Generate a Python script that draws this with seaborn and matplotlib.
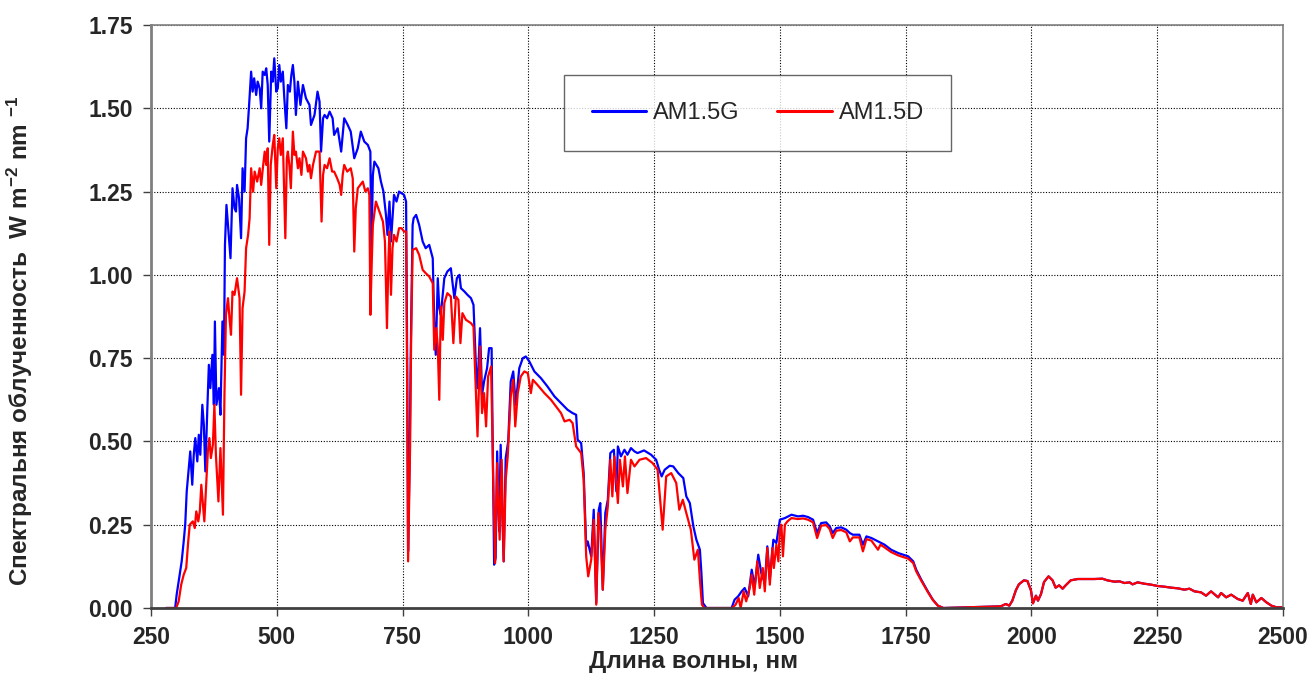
import numpy as np
import pandas as pd
import matplotlib
matplotlib.use("Agg")
import matplotlib.pyplot as plt
import seaborn as sns

# ---------------- data ----------------
g_wl = [280, 290, 298, 301, 306, 311, 315, 318, 321, 325, 328, 332, 335, 338, 342, 345, 348, 352, 355, 358,
        362, 365, 368, 372, 375, 377, 380, 385, 388, 392, 395, 397, 400, 405, 408, 412, 416, 419, 421, 425,
        429, 432, 436, 439, 442, 445, 449, 452, 455, 459, 462, 466, 469, 472, 476, 479, 482, 485, 489, 492,
        495, 499, 502, 505, 508, 512, 515, 519, 522, 526, 529, 532, 535, 538, 542, 547, 552, 558, 565, 568,
        575, 581, 585, 588, 592, 595, 600, 605, 611, 614, 621, 628, 634, 641, 647, 654, 661, 667, 674, 681,
        686, 688, 691, 694, 702, 707, 712, 717, 720, 724, 727, 733, 738, 743, 748, 753, 757, 759, 761, 764,
        767, 770, 772, 777, 783, 790, 796, 803, 810, 813, 816, 820, 823, 826, 833, 839, 846, 849, 853, 858,
        863, 866, 873, 879, 886, 891, 896, 899, 904, 908, 912, 918, 922, 927, 930, 932, 935, 938, 942, 945,
        948, 951, 955, 960, 965, 970, 975, 982, 989, 995, 1002, 1012, 1025, 1038, 1052, 1065, 1078, 1088, 1095, 1098,
        1105, 1110, 1115, 1118, 1125, 1130, 1135, 1140, 1143, 1148, 1153, 1158, 1163, 1170, 1175, 1178, 1184, 1191, 1197, 1204,
        1211, 1217, 1230, 1244, 1254, 1260, 1265, 1271, 1281, 1288, 1298, 1308, 1314, 1321, 1328, 1334, 1341, 1344, 1347, 1354,
        1404, 1410, 1417, 1424, 1430, 1437, 1444, 1450, 1457, 1463, 1470, 1475, 1480, 1487, 1493, 1500, 1510, 1523, 1536, 1546,
        1556, 1566, 1574, 1582, 1592, 1599, 1605, 1612, 1622, 1632, 1639, 1645, 1658, 1665, 1672, 1682, 1695, 1708, 1721, 1735,
        1745, 1755, 1765, 1771, 1781, 1794, 1804, 1814, 1825]
g_val = [0, 0, 0, 0.04, 0.09, 0.14, 0.20, 0.25, 0.35, 0.42, 0.47, 0.37, 0.46, 0.51, 0.44, 0.52, 0.46, 0.61, 0.55, 0.41,
         0.60, 0.73, 0.66, 0.76, 0.61, 0.86, 0.61, 0.66, 0.58, 0.86, 0.76, 1.09, 1.21, 1.11, 1.05, 1.26, 1.20, 1.19, 1.27, 1.23,
         1.11, 1.32, 1.25, 1.41, 1.44, 1.51, 1.61, 1.55, 1.59, 1.54, 1.58, 1.56, 1.50, 1.61, 1.60, 1.62, 1.57, 1.40, 1.61, 1.58,
         1.65, 1.55, 1.56, 1.63, 1.58, 1.61, 1.53, 1.44, 1.57, 1.55, 1.60, 1.63, 1.58, 1.48, 1.58, 1.51, 1.57, 1.53, 1.51, 1.45,
         1.48, 1.55, 1.52, 1.37, 1.47, 1.48, 1.47, 1.49, 1.47, 1.42, 1.44, 1.37, 1.47, 1.45, 1.43, 1.35, 1.38, 1.43, 1.40, 1.39,
         1.37, 1.06, 1.30, 1.34, 1.32, 1.28, 1.25, 1.18, 1.12, 1.22, 1.10, 1.24, 1.22, 1.25, 1.245, 1.24, 1.22, 0.80, 0.17, 0.45,
         0.85, 1.15, 1.17, 1.18, 1.15, 1.10, 1.08, 1.09, 1.05, 0.86, 0.76, 0.99, 0.90, 0.88, 0.99, 1.01, 1.02, 0.98, 0.93, 0.99,
         1.00, 0.96, 0.95, 0.94, 0.93, 0.91, 0.72, 0.66, 0.84, 0.64, 0.68, 0.72, 0.78, 0.78, 0.40, 0.13, 0.15, 0.47, 0.23, 0.49,
         0.30, 0.14, 0.45, 0.50, 0.68, 0.71, 0.61, 0.72, 0.75, 0.755, 0.74, 0.71, 0.69, 0.665, 0.635, 0.615, 0.595, 0.585, 0.58, 0.505,
         0.495, 0.405, 0.185, 0.20, 0.155, 0.295, 0.015, 0.295, 0.315, 0.055, 0.285, 0.325, 0.465, 0.475, 0.35, 0.485, 0.455, 0.475, 0.46, 0.48,
         0.47, 0.465, 0.473, 0.46, 0.445, 0.415, 0.395, 0.415, 0.427, 0.425, 0.405, 0.39, 0.335, 0.315, 0.245, 0.205, 0.175, 0.105, 0.015, 0,
         0, 0.025, 0.035, 0.05, 0.06, 0.035, 0.115, 0.065, 0.16, 0.105, 0.075, 0.185, 0.085, 0.205, 0.195, 0.265, 0.27, 0.28, 0.275, 0.277,
         0.273, 0.265, 0.225, 0.255, 0.257, 0.245, 0.225, 0.24, 0.242, 0.235, 0.225, 0.22, 0.22, 0.19, 0.215, 0.21, 0.20, 0.19, 0.175, 0.165,
         0.16, 0.155, 0.14, 0.115, 0.085, 0.05, 0.025, 0.007, 0]

d_wl = [280, 290, 300, 305, 310, 315, 320, 324, 327, 333, 337, 340, 344, 347, 350, 356, 360, 363, 366, 369,
        373, 376, 379, 384, 388, 393, 396, 399, 403, 406, 409, 412, 416, 421, 426, 429, 432, 436, 439, 443,
        446, 449, 453, 456, 461, 466, 469, 473, 476, 479, 482, 485, 488, 492, 495, 499, 502, 505, 508, 512,
        517, 520, 522, 525, 528, 532, 535, 538, 542, 545, 549, 552, 558, 562, 565, 568, 572, 578, 585, 589,
        592, 595, 600, 605, 610, 614, 620, 625, 628, 631, 634, 640, 647, 651, 654, 657, 661, 666, 671, 676,
        681, 684, 686, 689, 691, 697, 704, 711, 715, 719, 722, 724, 727, 730, 733, 738, 743, 748, 753, 757,
        759, 761, 765, 767, 770, 777, 783, 790, 796, 803, 810, 813, 817, 820, 823, 826, 830, 833, 839, 846,
        851, 856, 861, 865, 869, 876, 886, 891, 896, 899, 904, 908, 912, 916, 920, 926, 930, 934, 938, 943,
        947, 951, 955, 959, 965, 970, 974, 979, 985, 992, 999, 1005, 1009, 1018, 1032, 1045, 1055, 1065, 1072, 1082,
        1088, 1095, 1105, 1110, 1115, 1119, 1125, 1130, 1135, 1139, 1143, 1148, 1153, 1158, 1163, 1167, 1171, 1178, 1182, 1188,
        1192, 1197, 1204, 1211, 1221, 1234, 1247, 1257, 1267, 1274, 1284, 1294, 1300, 1307, 1314, 1323, 1330, 1337, 1341, 1345,
        1350, 1405, 1412, 1418, 1422, 1428, 1433, 1440, 1444, 1449, 1455, 1460, 1466, 1470, 1475, 1480, 1485, 1488, 1493, 1497,
        1500, 1503, 1506, 1510, 1515, 1523, 1536, 1546, 1556, 1566, 1574, 1582, 1592, 1599, 1605, 1612, 1622, 1632, 1639, 1645,
        1658, 1665, 1672, 1682, 1695, 1700, 1708, 1721, 1735, 1745, 1755, 1765, 1771, 1781, 1794, 1804, 1814, 1825]
d_val = [0, 0, 0, 0.02, 0.07, 0.10, 0.12, 0.20, 0.25, 0.26, 0.24, 0.29, 0.26, 0.29, 0.37, 0.26, 0.38, 0.47, 0.51, 0.45,
         0.49, 0.61, 0.46, 0.32, 0.48, 0.28, 0.64, 0.88, 0.93, 0.87, 0.82, 0.95, 0.94, 0.99, 0.93, 0.64, 0.90, 0.95, 1.08, 1.12,
         1.17, 1.32, 1.25, 1.31, 1.28, 1.32, 1.27, 1.33, 1.37, 1.33, 1.38, 1.09, 1.33, 1.39, 1.42, 1.26, 1.38, 1.41, 1.36, 1.41,
         1.11, 1.35, 1.37, 1.33, 1.26, 1.43, 1.36, 1.37, 1.32, 1.35, 1.30, 1.37, 1.35, 1.31, 1.33, 1.29, 1.33, 1.37, 1.37, 1.16,
         1.30, 1.33, 1.32, 1.35, 1.31, 1.31, 1.29, 1.27, 1.24, 1.30, 1.33, 1.31, 1.32, 1.29, 1.07, 1.20, 1.26, 1.27, 1.28, 1.25,
         1.26, 1.24, 0.88, 1.05, 1.15, 1.22, 1.19, 1.16, 1.10, 0.84, 1.05, 1.13, 0.94, 1.08, 1.12, 1.10, 1.14, 1.14, 1.13, 1.13,
         0.70, 0.14, 0.485, 0.80, 1.075, 1.08, 1.06, 1.015, 1.005, 0.995, 0.975, 0.775, 0.84, 0.785, 0.625, 0.905, 0.805, 0.915, 0.945, 0.935,
         0.795, 0.935, 0.925, 0.795, 0.885, 0.865, 0.855, 0.845, 0.635, 0.515, 0.785, 0.585, 0.645, 0.545, 0.695, 0.725, 0.40, 0.135, 0.435, 0.205,
         0.445, 0.14, 0.385, 0.455, 0.635, 0.685, 0.545, 0.645, 0.695, 0.71, 0.705, 0.645, 0.685, 0.67, 0.645, 0.625, 0.605, 0.585, 0.56, 0.565,
         0.555, 0.485, 0.465, 0.385, 0.155, 0.095, 0.145, 0.265, 0.01, 0.285, 0.235, 0.055, 0.235, 0.305, 0.445, 0.335, 0.455, 0.315, 0.445, 0.365,
         0.455, 0.345, 0.445, 0.425, 0.445, 0.45, 0.435, 0.415, 0.235, 0.395, 0.405, 0.375, 0.295, 0.325, 0.285, 0.235, 0.145, 0.175, 0.085, 0.01,
         0, 0, 0.01, 0.03, 0.0, 0.05, 0.02, 0.06, 0.10, 0.04, 0.14, 0.06, 0.12, 0.05, 0.18, 0.07, 0.18, 0.12, 0.19, 0.14,
         0.24, 0.25, 0.155, 0.25, 0.26, 0.27, 0.267, 0.269, 0.265, 0.257, 0.21, 0.247, 0.249, 0.237, 0.21, 0.232, 0.234, 0.227, 0.20, 0.212,
         0.212, 0.17, 0.207, 0.202, 0.175, 0.19, 0.182, 0.168, 0.158, 0.153, 0.148, 0.135, 0.11, 0.082, 0.048, 0.024, 0.007, 0]

# common far-IR tail (both series coincide there)
tail_wl = [1939, 1949, 1956, 1962, 1969, 1975, 1985, 1992, 1999, 2003, 2009, 2013, 2019, 2025, 2034, 2042, 2048, 2055, 2062, 2068,
           2078, 2092, 2108, 2125, 2141, 2151, 2165, 2175, 2185, 2195, 2201, 2211, 2224, 2238, 2251, 2264, 2278, 2291, 2304, 2314,
           2324, 2337, 2347, 2357, 2371, 2377, 2387, 2397, 2410, 2420, 2430, 2436, 2440, 2447, 2457, 2467, 2477, 2487, 2500]
tail_val = [0.005, 0.012, 0.007, 0.022, 0.053, 0.071, 0.083, 0.081, 0.053, 0.014, 0.037, 0.022, 0.042, 0.078, 0.095, 0.083, 0.061, 0.068, 0.058, 0.068,
            0.083, 0.087, 0.087, 0.087, 0.088, 0.083, 0.079, 0.080, 0.075, 0.077, 0.071, 0.077, 0.073, 0.070, 0.066, 0.064, 0.061, 0.059, 0.055, 0.058,
            0.050, 0.047, 0.037, 0.050, 0.032, 0.045, 0.032, 0.040, 0.027, 0.022, 0.045, 0.012, 0.040, 0.017, 0.030, 0.017, 0.007, 0.002, 0.002]

series_names = ["AM1.5G", "AM1.5D"]
x_ticks = [250, 500, 750, 1000, 1250, 1500, 1750, 2000, 2250, 2500]
y_ticks = [0.00, 0.25, 0.50, 0.75, 1.00, 1.25, 1.50, 1.75]

df = pd.concat([
    pd.DataFrame({"wl": g_wl + tail_wl, "E": g_val + tail_val, "series": series_names[0]}),
    pd.DataFrame({"wl": d_wl + tail_wl, "E": d_val + tail_val, "series": series_names[1]}),
], ignore_index=True)

# ---------------- styling ----------------
sns.set_theme(style="white")
plt.rcParams["font.family"] = ["Liberation Sans", "DejaVu Sans"]
plt.rcParams["mathtext.fontset"] = "custom"
plt.rcParams["mathtext.rm"] = "Liberation Sans:bold"
plt.rcParams["mathtext.it"] = "Liberation Sans:bold"
plt.rcParams["mathtext.bf"] = "Liberation Sans:bold"
plt.rcParams["mathtext.default"] = "rm"

fig = plt.figure(figsize=(13.14, 6.79), dpi=100)
ax = fig.add_axes([151 / 1314, 71 / 679, 1132 / 1314, 583 / 679])

sns.lineplot(data=df, x="wl", y="E", hue="series", palette={"AM1.5G": "#0000ff", "AM1.5D": "#ff0000"},
             estimator=None, sort=False, linewidth=1.6, ax=ax, legend=False)

ax.set_xlim(250, 2500)
ax.set_ylim(0, 1.75)
ax.set_xticks(x_ticks)
ax.set_yticks(y_ticks)
ax.set_xticklabels([str(t) for t in x_ticks])
ax.set_yticklabels([f"{t:.2f}" for t in y_ticks])

ax.grid(True, color="black", linestyle=(0, (1, 1.5)), linewidth=0.8)
ax.set_axisbelow(True)

for side in ["top", "right"]:
    ax.spines[side].set_visible(True)
    ax.spines[side].set_color("#808080")
    ax.spines[side].set_linewidth(1.2)
ax.spines["left"].set_color("#7f7f7f")
ax.spines["left"].set_linewidth(2.0)
ax.spines["bottom"].set_color("#404040")
ax.spines["bottom"].set_linewidth(2.0)

ax.tick_params(axis="both", which="major", direction="out", length=6, width=1, color="#404040",
               labelsize=16.5, pad=7, left=True, bottom=True)
for lab in ax.get_xticklabels() + ax.get_yticklabels():
    lab.set_fontweight("bold")

ax.set_xlabel("Длина волны, нм", fontsize=17.5, fontweight="bold")
ax.xaxis.set_label_coords(0.479, -0.072)
ax.set_ylabel("Спектральня облученность  W m$^{-2}$ nm $^{-1}$", fontsize=17.5, fontweight="bold", va="center")
ax.yaxis.set_label_coords(-0.116, 0.458)

# legend
handles = [plt.Line2D([], [], color="#0000ff", lw=2.2), plt.Line2D([], [], color="#ff0000", lw=2.2)]
leg = ax.legend(handles, series_names, loc="center", bbox_to_anchor=(0.536, 0.849), ncol=2,
                fontsize=17, frameon=True, fancybox=False, shadow=False, handlelength=2.3,
                handletextpad=0.3, columnspacing=1.6, borderpad=1.15, borderaxespad=0)
leg.get_frame().set_edgecolor("#404040")
leg.get_frame().set_linewidth(1.0)

fig.savefig("out.png", dpi=100)
